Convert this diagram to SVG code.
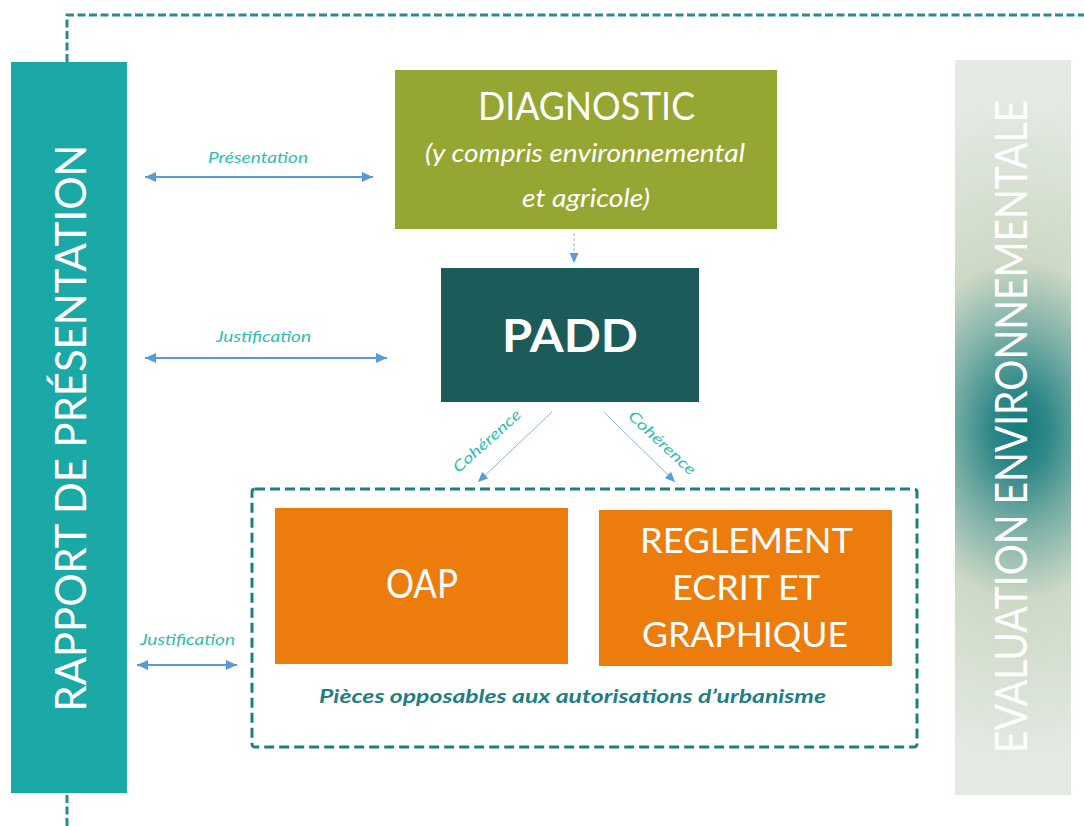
<svg xmlns="http://www.w3.org/2000/svg" width="1084" height="826" viewBox="0 0 1084 826">
<defs>
<style>
.frame{fill:none;stroke:#2b8a90;stroke-width:3;stroke-dasharray:8 3.5}
.box{stroke:none}
.wt{fill:#ffffff;font-family:Lato,"Open Sans","Liberation Sans",sans-serif;text-anchor:middle}
.lbl{fill:#2fbdb4;font-family:Lato,"Open Sans","Liberation Sans",sans-serif;font-style:italic;font-size:15px;text-anchor:middle}
.conn{stroke:#5b9bd5;stroke-width:2;fill:none}
.thin{stroke:#8cb4e3;stroke-width:1;fill:none}
</style>
<marker id="ah" markerUnits="userSpaceOnUse" markerWidth="11" markerHeight="10" refX="11" refY="5" orient="auto-start-reverse" viewBox="0 0 11 10">
<path d="M0,0 L11,5 L0,10 z" fill="#5b9bd5"/>
</marker>
<marker id="ahs" markerUnits="userSpaceOnUse" markerWidth="10" markerHeight="9" refX="10" refY="4.5" orient="auto" viewBox="0 0 10 9">
<path d="M0,0 L10,4.5 L0,9 z" fill="#5b9bd5"/>
</marker>
<radialGradient id="evalGrad" gradientUnits="userSpaceOnUse" cx="0" cy="0" r="1" gradientTransform="translate(1020 430) scale(240 340)">
<stop offset="0" stop-color="#157b7d"/>
<stop offset="0.12" stop-color="#2f8887"/>
<stop offset="0.3" stop-color="#7fb1a8"/>
<stop offset="0.5" stop-color="#cdd9c5"/>
<stop offset="0.75" stop-color="#d9e2d5"/>
<stop offset="1" stop-color="#e4ebe5"/>
</radialGradient>
</defs>
<rect width="1084" height="826" fill="#ffffff"/>

<g id="frame">
<path class="frame" d="M67,62 L67,15 L1084,15"/>
<path class="frame" d="M67,795 L67,826"/>
</g>

<g id="rapport">
<rect class="box" x="11" y="62" width="116" height="731" fill="#1aa9a6"/>
<text class="wt" transform="translate(86 428) rotate(-90)" font-size="42" textLength="567" lengthAdjust="spacingAndGlyphs">RAPPORT DE PRÉSENTATION</text>
</g>

<g id="evaluation">
<rect class="box" x="955" y="60" width="116" height="735" fill="url(#evalGrad)"/>
<text class="wt" transform="translate(1027 426.5) rotate(-90)" font-size="44" textLength="653" lengthAdjust="spacingAndGlyphs">EVALUATION ENVIRONNEMENTALE</text>
</g>

<g id="diagnostic">
<rect class="box" x="395" y="70" width="382" height="159" fill="#95a732"/>
<text class="wt" x="586.5" y="120" font-size="38" textLength="217" lengthAdjust="spacingAndGlyphs">DIAGNOSTIC</text>
<text class="wt" x="585" y="162" font-size="26" font-style="italic" textLength="320" lengthAdjust="spacingAndGlyphs">(y compris environnemental</text>
<text class="wt" x="586" y="207" font-size="26" font-style="italic" textLength="128" lengthAdjust="spacingAndGlyphs">et agricole)</text>
</g>

<g id="padd">
<rect class="box" x="441" y="268" width="258" height="134" fill="#1b5c5a"/>
<text class="wt" x="570" y="352" font-size="46" font-weight="bold" textLength="136" lengthAdjust="spacingAndGlyphs">PADD</text>
</g>

<g id="pieces">
<rect x="252" y="489" width="665" height="258" rx="3" fill="none" stroke="#1e7f82" stroke-width="3" stroke-dasharray="10 5"/>
<text x="572.5" y="703" font-family="Lato,'Open Sans','Liberation Sans',sans-serif" font-size="19" font-style="italic" font-weight="bold" fill="#1e7f82" text-anchor="middle" textLength="507" lengthAdjust="spacingAndGlyphs">Pièces opposables aux autorisations d’urbanisme</text>
</g>

<g id="oap">
<rect class="box" x="275" y="508" width="293" height="156" fill="#ec7d0c"/>
<text class="wt" x="422" y="598" font-size="40" textLength="72" lengthAdjust="spacingAndGlyphs">OAP</text>
</g>

<g id="reglement">
<rect class="box" x="599" y="510" width="293" height="156" fill="#ec7d0c"/>
<text class="wt" x="746.5" y="553" font-size="35" textLength="213" lengthAdjust="spacingAndGlyphs">REGLEMENT</text>
<text class="wt" x="746" y="600" font-size="35" textLength="148" lengthAdjust="spacingAndGlyphs">ECRIT ET</text>
<text class="wt" x="745" y="647" font-size="35" textLength="206" lengthAdjust="spacingAndGlyphs">GRAPHIQUE</text>
</g>

<g id="connectors">
<line class="conn" x1="145" y1="177" x2="373" y2="177" marker-start="url(#ah)" marker-end="url(#ah)"/>
<text class="lbl" x="258" y="163" textLength="100" lengthAdjust="spacingAndGlyphs">Présentation</text>
<line class="conn" x1="145" y1="358" x2="387" y2="358" marker-start="url(#ah)" marker-end="url(#ah)"/>
<text class="lbl" x="263.5" y="342" textLength="95" lengthAdjust="spacingAndGlyphs">Justification</text>
<line class="conn" x1="137" y1="665" x2="237" y2="665" marker-start="url(#ah)" marker-end="url(#ah)"/>
<text class="lbl" x="187.5" y="645" textLength="95" lengthAdjust="spacingAndGlyphs">Justification</text>
<line class="thin" x1="574" y1="233" x2="574" y2="263" stroke-dasharray="3 2" marker-end="url(#ahs)"/>
<line class="thin" x1="552" y1="412" x2="478" y2="482" marker-end="url(#ahs)"/>
<line class="thin" x1="604" y1="412" x2="675" y2="482" marker-end="url(#ahs)"/>
<text class="lbl" font-size="16" transform="translate(487 441) rotate(-42)" x="0" y="5" textLength="86" lengthAdjust="spacingAndGlyphs">Cohérence</text>
<text class="lbl" font-size="16" transform="translate(662 443) rotate(43)" x="0" y="5" textLength="86" lengthAdjust="spacingAndGlyphs">Cohérence</text>
</g>
</svg>
